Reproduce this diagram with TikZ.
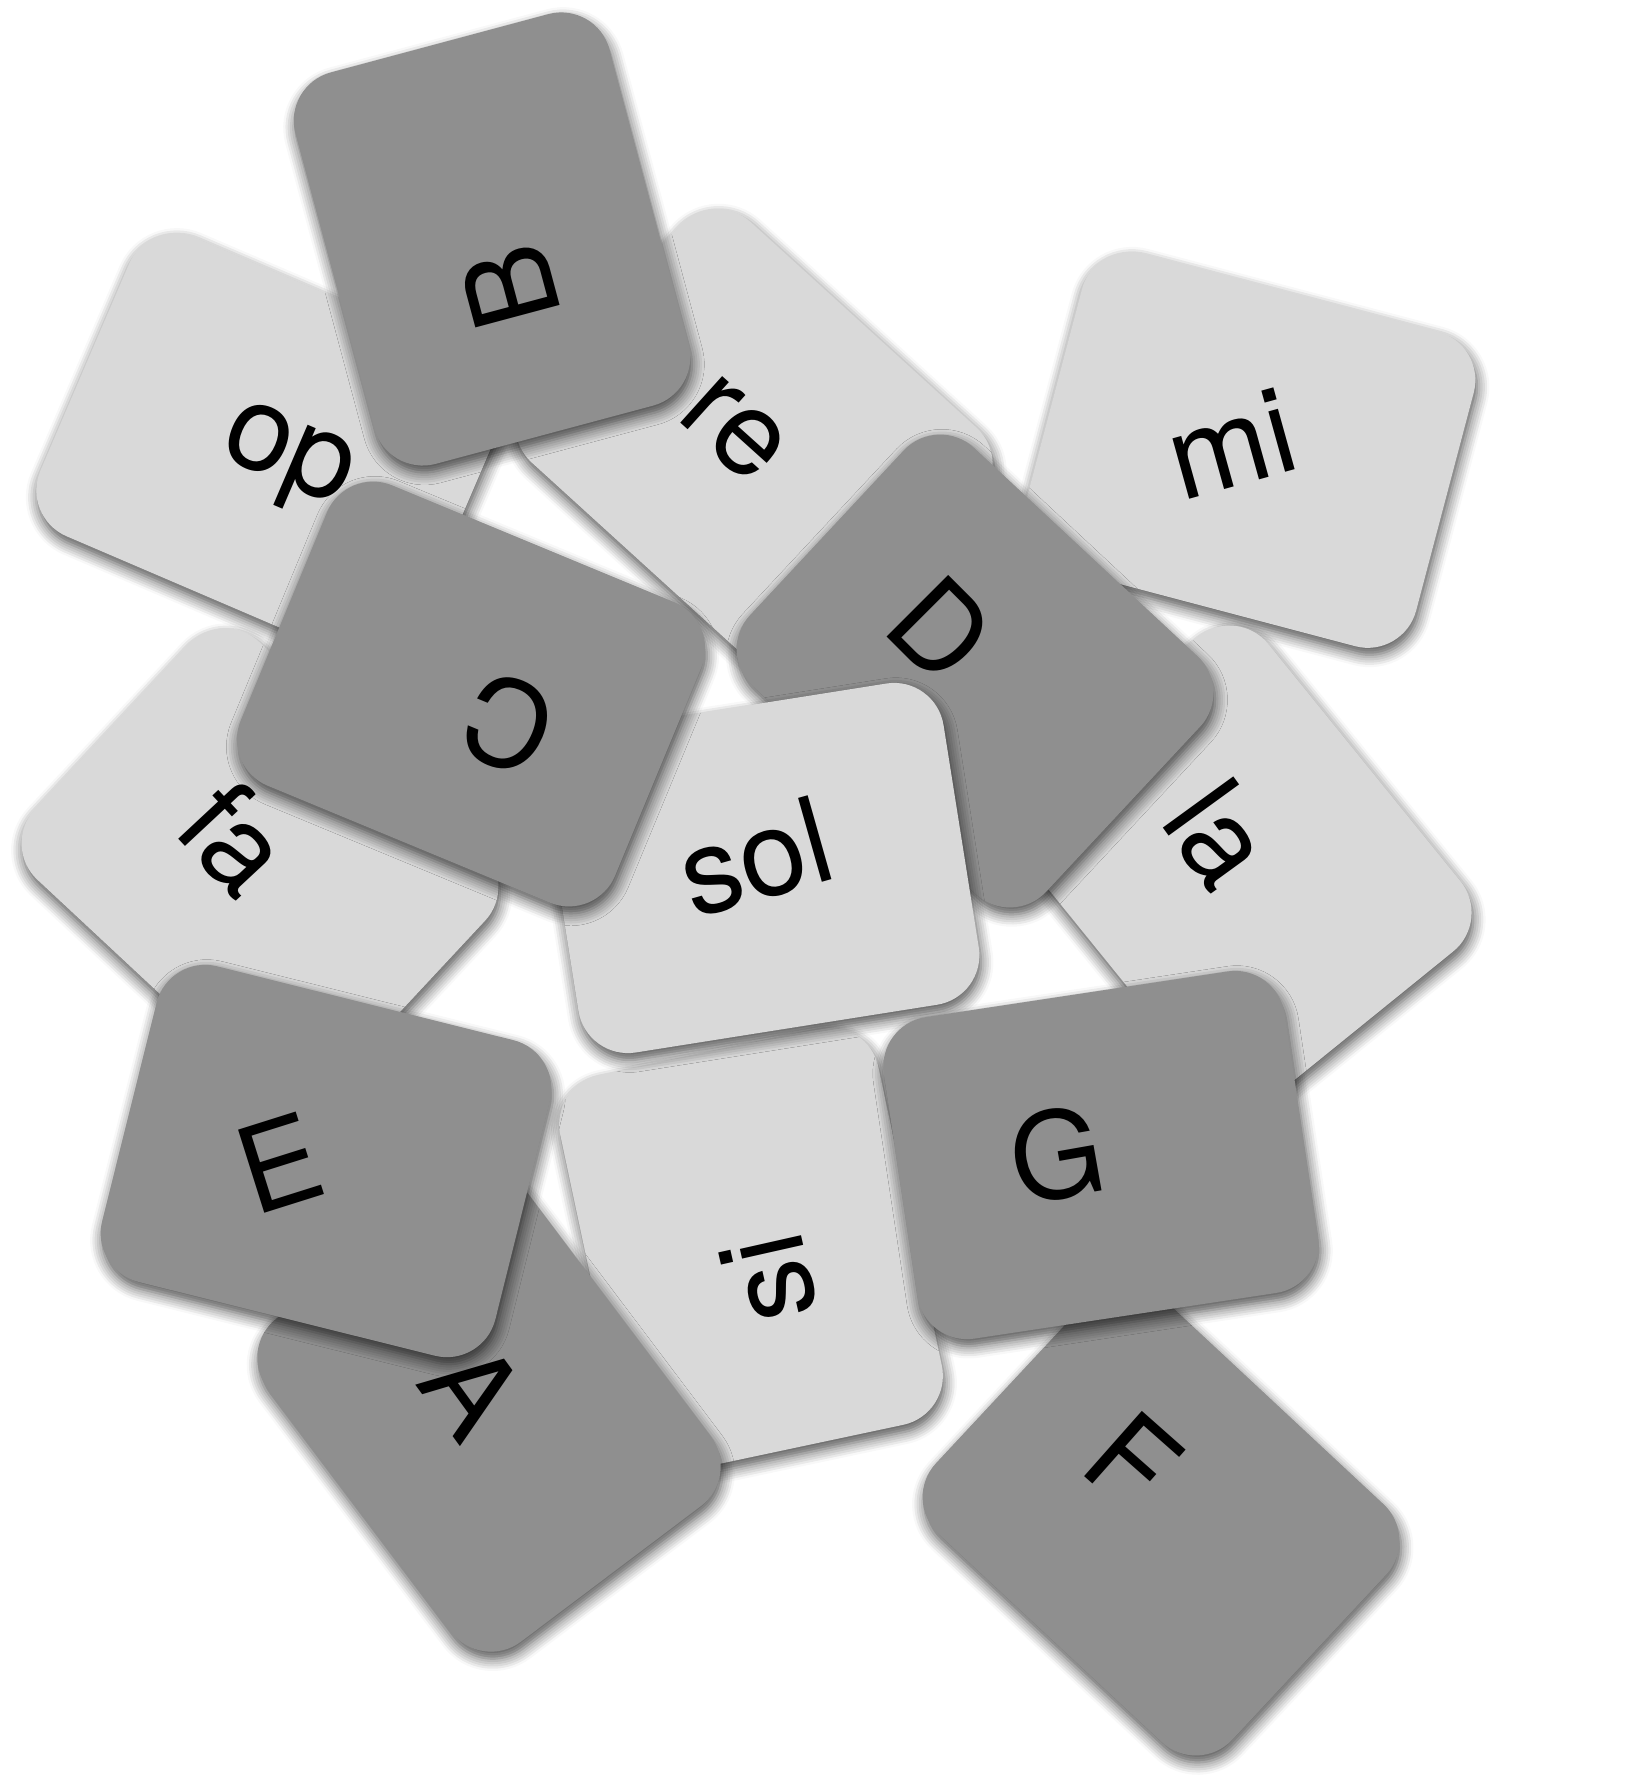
\documentclass[tikz,border=0pt]{standalone}
\usepackage{fontspec}
\setmainfont{TeX Gyre Heros}
\usetikzlibrary{shadows.blur}
\definecolor{cardlight}{RGB}{217,217,217}
\definecolor{carddark}{RGB}{143,143,143}
\begin{document}
\begin{tikzpicture}[x=0.01cm, y=-0.01cm,
    card/.style={rounded corners=0.5cm, minimum width=4.05cm, minimum height=3.25cm, inner sep=0pt,
      blur shadow={shadow xshift=0.5pt, shadow yshift=-2pt, shadow blur radius=3.5pt, shadow blur steps=6, shadow opacity=70}},
    lightcard/.style={card, fill=cardlight},
    darkcard/.style={card, fill=carddark},
    syl/.style={inner sep=0pt, font=\fontsize{34}{34}\selectfont}]
  \useasboundingbox (0,0) rectangle (1649,1786);

  % 浅色卡片
  \node[lightcard, rotate=-23.2] (do) at (271,447) {};
  \node[syl, rotate=156.8] (do-t) at (285,462) {do};
  \node[lightcard, rotate=-42.3] (re) at (754,445) {};
  \node[syl, rotate=-42] (re-t) at (734,429) {re};
  \node[lightcard, rotate=-14.8] (mi) at (1249,450) {};
  \node[syl, rotate=15.5] (mi-t) at (1231,444) {mi};
  \node[lightcard, rotate=-43] (fa) at (260,865) {};
  \node[syl, rotate=-47] (fa-t) at (236,838) {fa};
  \node[lightcard, rotate=-51] (la) at (1238,865) {};
  \node[syl, rotate=-54] (la-t) at (1220,834) {la};
  \node[lightcard, rotate=102] (si) at (751,1250) {};
  \node[syl, rotate=102.7] (si-t) at (769,1279) {si};

  % 深色卡片
  \node[darkcard, rotate=-53] (A) at (489,1412) {};
  \node[syl, rotate=-54] (A-t) at (473,1390) {A};
  \node[darkcard, rotate=105] (B) at (492,239) {};
  \node[syl, rotate=105] (B-t) at (510,287) {B};
  \node[darkcard, rotate=-43] (D) at (975,671) {};
  \node[syl, rotate=-45] (D-t) at (941,629) {D};
  \node[lightcard, rotate=9] (sol) at (761,868) {};
  \node[syl, rotate=15.8] (sol-t) at (755,857) {sol};
  \node[darkcard, rotate=-22.5] (C) at (471,694) {};
  \node[syl, rotate=157.5] (C-t) at (508,724) {C};
  \node[darkcard, rotate=-14] (E) at (326,1161) {};
  \node[syl, rotate=17.5] (E-t) at (279,1163) {E};
  \node[darkcard, rotate=-43] (F) at (1161,1519) {};
  \node[syl, rotate=-41.5] (F-t) at (1133,1461) {F};
  \node[darkcard, rotate=8.6] (G) at (1101,1155) {};
  \node[syl, rotate=10] (G-t) at (1057,1154) {G};
\end{tikzpicture}
\end{document}
